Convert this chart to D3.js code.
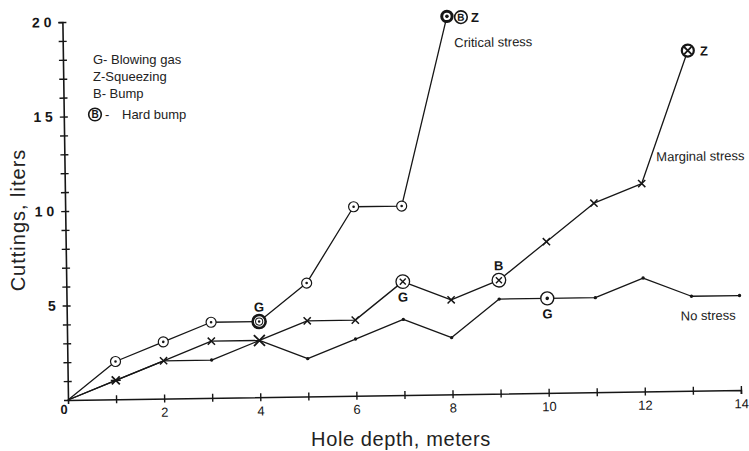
<!DOCTYPE html>
<html><head><meta charset="utf-8">
<script src="https://cdn.jsdelivr.net/npm/d3@7"></script>
<style>body{margin:0;background:#fff}svg{display:block}</style>
</head><body><svg id="c" width="749" height="451"></svg>
<script>
// ---- data ----
const criticalX = [0,1,2,3,4,5,6,7,8];
const criticalY = [0,2,3,4,4,6,10,10,20];
const marginalX = [0,1,2,3,4,5,6,7,8,9,10,11,12,13];
const marginalY = [0,1,2,3,3,4,4,6,5,6,8,10,11,18];
const noStressX = [0,1,2,3,4,5,6,7,8,9,10,11,12,13,14];
const noStressY = [0,1,2,2,3,2,3,4,3,5,5,5,6,5,5];
const xTickValues = [1,2,3,4,5,6,7,8,9,10,11,12,13,14];
const xTickLabels = [2,4,6,8,10,12,14];
const yTickValues = [1,2,3,4,5,6,7,8,9,10,11,12,13,14,15,16,17,18,19,20];
const yTickLabels = [5,10,15,20];
const legendItems = ["G- Blowing gas","Z-Squeezing","B- Bump","Hard bump"];
// event annotations: [series, depth, letter, where]
const events = [
  ["critical", 4, "G", "above"],
  ["marginal", 7, "G", "below"],
  ["marginal", 9, "B", "above"],
  ["noStress", 10, "G", "below"]
];

const svg = d3.select("#c");
const ink = "#161616";
const W = 673, H = 378;
const x = d3.scaleLinear().domain([0,14]).range([0,W]);
const y = d3.scaleLinear().domain([0,20]).range([0,-H]);

// whole scanned figure is tilted slightly
const g = svg.append("g").attr("transform","translate(68,400) rotate(-0.85)");

// axes
const xAxis = d3.axisBottom(x).tickValues(xTickValues).tickSizeOuter(0).tickSize(4)
  .tickFormat(d => xTickLabels.includes(d) ? d : "");
const gx = g.append("g").call(xAxis);
gx.select(".domain").attr("stroke",ink).attr("stroke-width",1.6);
gx.selectAll(".tick line").attr("y1",-4).attr("stroke",ink).attr("stroke-width",1.4);
gx.selectAll(".tick text").attr("y",9).attr("fill",ink)
  .attr("font-family","'Liberation Sans Narrow','Liberation Sans',Arial,sans-serif")
  .attr("font-size",13);

const yAxis = d3.axisLeft(y).tickValues(yTickValues).tickSizeOuter(0).tickSize(4)
  .tickFormat(d => yTickLabels.includes(d) ? String(d).split("").join(" ") : "");
const gy = g.append("g").call(yAxis);
gy.select(".domain").attr("stroke",ink).attr("stroke-width",1.6);
gy.selectAll(".tick line").attr("x1",4).attr("stroke",ink).attr("stroke-width",1.4);
gy.selectAll(".tick text").attr("x",-11).attr("fill",ink)
  .attr("font-family","'Liberation Sans',Arial,sans-serif")
  .attr("font-weight","bold").attr("font-size",14);

// origin label
g.append("text").attr("x",x(0)-4).attr("y",y(0)+14).attr("text-anchor","middle")
  .attr("font-family","'Liberation Sans',Arial,sans-serif").attr("font-weight","bold")
  .attr("font-size",13).attr("fill",ink).text("0");

// lines
const line = d3.line().x(d=>x(d[0])).y(d=>y(d[1]));
const series = {
  critical: d3.zip(criticalX, criticalY),
  marginal: d3.zip(marginalX, marginalY),
  noStress: d3.zip(noStressX, noStressY)
};
Object.values(series).forEach(pts => {
  g.append("path").attr("d", line(pts)).attr("fill","none")
    .attr("stroke",ink).attr("stroke-width",1.3).attr("stroke-linejoin","round");
});

// helpers
function xMark(sel, cx, cy, s, w) {
  sel.append("path").attr("d",`M${cx-s},${cy-s}L${cx+s},${cy+s}M${cx-s},${cy+s}L${cx+s},${cy-s}`)
    .attr("stroke",ink).attr("stroke-width",w).attr("fill","none");
}
function ring(sel, cx, cy, r, w) {
  sel.append("circle").attr("cx",cx).attr("cy",cy).attr("r",r)
    .attr("fill","#fff").attr("stroke",ink).attr("stroke-width",w);
}
function dot(sel, cx, cy, r) {
  sel.append("circle").attr("cx",cx).attr("cy",cy).attr("r",r).attr("fill",ink);
}
function circledB(sel, cx, cy) {
  ring(sel, cx, cy, 6.3, 1.6);
  sel.append("text").attr("x",cx).attr("y",cy+3.6).attr("text-anchor","middle")
    .attr("font-family","'Liberation Sans',Arial,sans-serif").attr("font-weight","bold")
    .attr("font-size",10).attr("fill",ink).text("B");
}
const isEvent = (s, d) => events.some(e => e[0]===s && e[1]===d);

// critical markers
series.critical.forEach(([d,v],i) => {
  if (i===0) return;
  const cx = x(d), cy = y(v);
  if (i === series.critical.length-1) {
    ring(g, cx, cy, 5.2, 3); dot(g, cx, cy, 1.8);
  } else if (isEvent("critical", d)) {
    ring(g, cx, cy, 6.5, 2.6); ring(g, cx, cy, 3.6, 1); dot(g, cx, cy, 1.3);
  } else {
    ring(g, cx, cy, 5, 1.2); dot(g, cx, cy, 1.3);
  }
});

// marginal markers
series.marginal.forEach(([d,v],i) => {
  if (i===0) return;
  const cx = x(d), cy = y(v);
  if (i === series.marginal.length-1) {
    ring(g, cx, cy, 6, 2.2); xMark(g, cx, cy, 3.6, 1.8);
  } else if (isEvent("marginal", d)) {
    ring(g, cx, cy, 6.8, 1.3); xMark(g, cx, cy, 3, 1.4);
  } else if (i===1) {
    xMark(g, cx, cy, 4, 1.8);
    g.append("path").attr("d",`M${cx-5},${cy}L${cx+5},${cy}`).attr("stroke",ink).attr("stroke-width",1.6);
  } else if (d===4) {
    xMark(g, cx, cy, 5.5, 1.8);
  } else {
    xMark(g, cx, cy, 3.6, 1.5);
  }
});

// no-stress markers
series.noStress.forEach(([d,v],i) => {
  if (i<=2 || d===4) return;
  const cx = x(d), cy = y(v);
  if (isEvent("noStress", d)) {
    ring(g, cx, cy, 6.5, 1.4); dot(g, cx, cy, 1.8);
  } else {
    dot(g, cx, cy, 1.7);
  }
});

// event letters
const letterFont = sel => sel.attr("font-family","'Liberation Sans',Arial,sans-serif")
  .attr("font-weight","bold").attr("font-size",13).attr("fill",ink).attr("text-anchor","middle");
events.forEach(([s, d, letter, where]) => {
  const pt = series[s].find(p => p[0]===d);
  g.append("text").attr("x",x(pt[0])).attr("y", y(pt[1]) + (where==="above" ? -10 : 20))
    .call(letterFont).text(letter);
});

// top annotations
const cTop = series.critical[series.critical.length-1];
circledB(g, x(cTop[0])+14, y(cTop[1])+1);
g.append("text").attr("x",x(cTop[0])+28).attr("y",y(cTop[1])+6).call(letterFont).text("Z");
const mTop = series.marginal[series.marginal.length-1];
g.append("text").attr("x",x(mTop[0])+16).attr("y",y(mTop[1])+5).call(letterFont).text("Z");

// series labels
const lab = sel => sel.attr("font-family","'Liberation Sans',Arial,sans-serif")
  .attr("font-size",13).attr("fill","#222");
g.append("text").attr("x",x(cTop[0])+7).attr("y",y(cTop[1])+31).call(lab).text("Critical stress");
g.append("text").attr("x",x(12)+15).attr("y",y(11)-22).call(lab).text("Marginal stress");
g.append("text").attr("x",x(13)-11).attr("y",y(5)+24).call(lab).text("No stress");

// legend
const legendBase = [63.5, 80.5, 98, 119];
const lg = svg.append("g").attr("transform","translate(93,0)");
legendItems.forEach((t,i) => {
  if (i < 3) {
    lg.append("text").attr("x",0).attr("y",legendBase[i]).call(lab).text(t);
  } else {
    circledB(lg, 2, legendBase[i]-4.5);
    lg.append("text").attr("x",12).attr("y",legendBase[i]).call(lab).text("-");
    lg.append("text").attr("x",29).attr("y",legendBase[i]).call(lab).text(t);
  }
});

// axis titles
svg.append("text").attr("transform","translate(25,220) rotate(-90)").attr("text-anchor","middle")
  .attr("font-family","'Liberation Sans',Arial,sans-serif").attr("font-size",20)
  .attr("letter-spacing",1).attr("fill","#222")
  .text("Cuttings, liters");
svg.append("text").attr("x",401).attr("y",446).attr("text-anchor","middle")
  .attr("font-family","'Liberation Sans',Arial,sans-serif").attr("font-size",20)
  .attr("letter-spacing",0.6).attr("fill","#222")
  .text("Hole depth, meters");
</script></body></html>
